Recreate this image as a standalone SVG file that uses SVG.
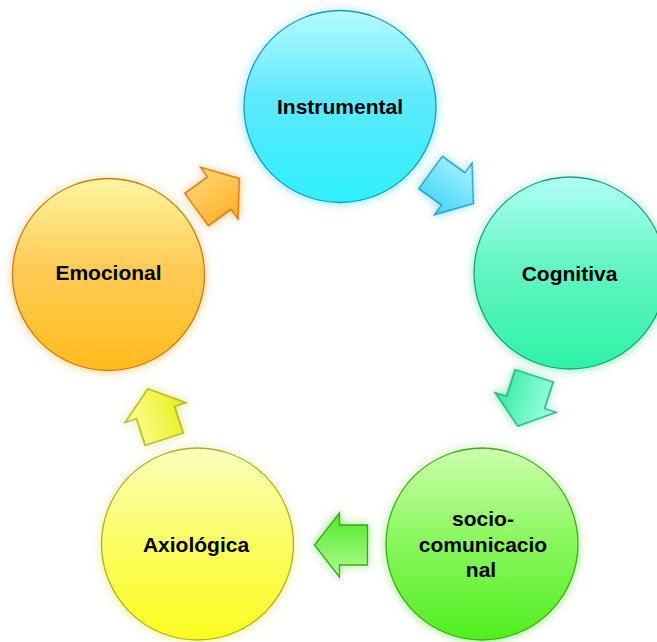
<svg xmlns="http://www.w3.org/2000/svg" width="657" height="642" viewBox="0 0 657 642">
  <defs>
    <filter id="glow" x="-20%" y="-20%" width="140%" height="140%">
      <feGaussianBlur in="SourceGraphic" stdDeviation="5" result="b"/>
      <feComponentTransfer in="b" result="b2"><feFuncA type="linear" slope="0.7"/></feComponentTransfer>
      <feMerge><feMergeNode in="b2"/><feMergeNode in="SourceGraphic"/></feMerge>
    </filter>
    <linearGradient id="gInst" x1="0" y1="0" x2="0" y2="1">
      <stop offset="0" stop-color="#b4fbff"/><stop offset="0.45" stop-color="#5ee9fc"/><stop offset="1" stop-color="#2ef0fc"/>
    </linearGradient>
    <linearGradient id="gCog" x1="0" y1="0" x2="0" y2="1">
      <stop offset="0" stop-color="#b0fff6"/><stop offset="0.45" stop-color="#66f6c4"/><stop offset="1" stop-color="#2ef2a6"/>
    </linearGradient>
    <linearGradient id="gSoc" x1="0" y1="0" x2="0" y2="1">
      <stop offset="0" stop-color="#ccffae"/><stop offset="0.45" stop-color="#8ef862"/><stop offset="1" stop-color="#50ee1e"/>
    </linearGradient>
    <linearGradient id="gAxi" x1="0" y1="0" x2="0" y2="1">
      <stop offset="0" stop-color="#fcffbe"/><stop offset="0.45" stop-color="#fbfd6a"/><stop offset="1" stop-color="#fcfc1e"/>
    </linearGradient>
    <linearGradient id="gEmo" x1="0" y1="0" x2="0" y2="1">
      <stop offset="0" stop-color="#fff6a0"/><stop offset="0.45" stop-color="#ffcc58"/><stop offset="1" stop-color="#ffbc1c"/>
    </linearGradient>
    <linearGradient id="aEmo" x1="0" y1="0" x2="0" y2="1">
      <stop offset="0" stop-color="#ffd878"/><stop offset="1" stop-color="#ffae20"/>
    </linearGradient>
    <linearGradient id="aInst" x1="0" y1="0" x2="0" y2="1">
      <stop offset="0" stop-color="#a8f4ff"/><stop offset="1" stop-color="#40d4f6"/>
    </linearGradient>
    <linearGradient id="aCog" x1="0" y1="0" x2="0" y2="1">
      <stop offset="0" stop-color="#a8fff0"/><stop offset="1" stop-color="#30ec9a"/>
    </linearGradient>
    <linearGradient id="aSoc" x1="0" y1="0" x2="0" y2="1">
      <stop offset="0" stop-color="#b0ff90"/><stop offset="1" stop-color="#50e628"/>
    </linearGradient>
    <linearGradient id="aAxi" x1="0" y1="0" x2="0" y2="1">
      <stop offset="0" stop-color="#ffff98"/><stop offset="1" stop-color="#e6ee18"/>
    </linearGradient>
    <path id="arrow" d="M-26.5,-20 H1.5 V-32 L26.5,0 L1.5,32 V20 H-26.5 Z"/>
  </defs>
  <style>
    .node circle { filter: url(#glow); stroke-width: 1.3; }
    .lbl { font-family: "Liberation Sans", Arial, sans-serif; font-weight: bold; font-size: 21px; fill: #000; text-anchor: middle; }
    .arr use { filter: url(#glow); stroke-width: 1.3; stroke-linejoin: miter; }
  </style>
  <rect width="657" height="642" fill="#ffffff"/>

  <g id="connectors" class="arr">
    <use href="#arrow" transform="translate(218,194) rotate(-36)" fill="url(#aEmo)" stroke="#d07010"/>
    <use href="#arrow" transform="translate(452,188) rotate(36)" fill="url(#aInst)" stroke="#1a98ba"/>
    <use href="#arrow" transform="translate(526,401) rotate(108)" fill="url(#aCog)" stroke="#1ca878"/>
    <use href="#arrow" transform="translate(341,545) rotate(180)" fill="url(#aSoc)" stroke="#3aa81c"/>
    <use href="#arrow" transform="translate(156,414) rotate(-108)" fill="url(#aAxi)" stroke="#a8b01c"/>
  </g>

  <g id="instrumental" class="node">
    <circle cx="340" cy="106.5" r="96" fill="url(#gInst)" stroke="#2296b8"/>
    <text class="lbl" x="340" y="114">Instrumental</text>
  </g>
  <g id="cognitiva" class="node">
    <circle cx="570" cy="273" r="96" fill="url(#gCog)" stroke="#1ea070"/>
    <text class="lbl" x="569.5" y="280.5">Cognitiva</text>
  </g>
  <g id="socio-comunicacional" class="node">
    <circle cx="482" cy="544" r="96" fill="url(#gSoc)" stroke="#40aa20"/>
    <text class="lbl" x="483" y="526">socio-</text>
    <text class="lbl" x="483" y="552">comunicacio</text>
    <text class="lbl" x="481" y="577">nal</text>
  </g>
  <g id="axiologica" class="node">
    <circle cx="197.5" cy="544" r="96" fill="url(#gAxi)" stroke="#aab226"/>
    <text class="lbl" x="196" y="551.5">Axiológica</text>
  </g>
  <g id="emocional" class="node">
    <circle cx="108.5" cy="274.5" r="96" fill="url(#gEmo)" stroke="#d07818"/>
    <text class="lbl" x="108.5" y="280">Emocional</text>
  </g>
</svg>
